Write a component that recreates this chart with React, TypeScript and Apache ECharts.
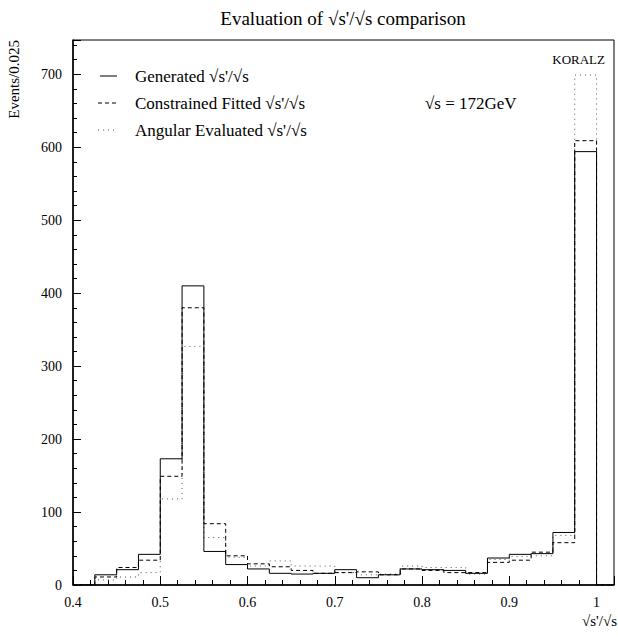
import React, { useEffect, useRef } from "react";
import * as echarts from "echarts";

const binStart = 0.425;
const binWidth = 0.025;
const generated = [14, 21, 42, 173, 410, 46, 28, 22, 16, 15, 16, 21, 10, 14, 22, 21, 20, 16, 37, 42, 43, 72, 594];
const constrainedFitted = [11, 24, 34, 149, 380, 84, 40, 29, 25, 20, 16, 17, 18, 14, 22, 20, 17, 17, 31, 34, 45, 58, 609];
const angularEvaluated = [7, 11, 17, 118, 327, 65, 38, 26, 33, 26, 26, 17, 14, 15, 26, 24, 24, 15, 35, 39, 40, 68, 699];
const legendNames = ["Generated \u221As'/\u221As", "Constrained Fitted \u221As'/\u221As", "Angular Evaluated \u221As'/\u221As"];
const titleText = "Evaluation of \u221As'/\u221As comparison";
const yTitle = "Events/0.025";
const xTitle = "\u221As'/\u221As";
const energyText = "\u221As = 172GeV";
const generatorText = "KORALZ";

const FONT = "'Liberation Serif', 'DejaVu Serif', serif";

function stepData(vals: number[]) {
  const pts: number[][] = [[0.4, 0]];
  vals.forEach((v, i) => {
    pts.push([+(binStart + i * binWidth).toFixed(4), v]);
  });
  pts.push([1.0, 0]);
  pts.push([1.02, 0]);
  return pts;
}

export default function App() {
  const ref = useRef<HTMLDivElement>(null);
  useEffect(() => {
    if (!ref.current) return;
    const chart = echarts.init(ref.current, null, { renderer: "svg" });
    const lineSeries = (name: string, vals: number[], type: any, color: string, z: number) => ({
      name,
      type: "line",
      step: "end",
      symbol: "none",
      data: stepData(vals),
      lineStyle: { color, width: 1, type },
      z,
      silent: true,
    });
    const legendY = [76, 103, 130];
    chart.setOption({
      animation: false,
      backgroundColor: "#fff",
      grid: { left: 73, right: 4, top: 40, bottom: 52, show: true, borderColor: "#000", borderWidth: 1 },
      xAxis: {
        type: "value",
        min: 0.4,
        max: 1.02,
        interval: 0.1,
        axisLine: { lineStyle: { color: "#000", width: 1.5 } },
        axisTick: { inside: true, length: 9, lineStyle: { color: "#000" } },
        minorTick: { show: true, splitNumber: 5, length: 5, lineStyle: { color: "#000" } },
        splitLine: { show: false },
        axisLabel: {
          color: "#000",
          fontFamily: FONT,
          fontSize: 14,
          margin: 10,
          showMaxLabel: false,
          formatter: (v: number) =>
            Math.abs(v * 10 - Math.round(v * 10)) < 1e-6 ? String(+v.toFixed(1)) : "",
        },
      },
      yAxis: {
        type: "value",
        min: 0,
        max: 747,
        interval: 100,
        axisLine: { show: true, lineStyle: { color: "#000", width: 1.5 } },
        axisTick: { show: true, inside: true, length: 8, lineStyle: { color: "#000" } },
        minorTick: { show: true, splitNumber: 5, length: 4, lineStyle: { color: "#000" } },
        splitLine: { show: false },
        axisLabel: {
          color: "#000",
          fontFamily: FONT,
          fontSize: 14,
          margin: 11,
          showMaxLabel: false,
          formatter: (v: number) => (v % 100 === 0 ? String(v) : ""),
        },
      },
      series: [
        lineSeries(legendNames[2], angularEvaluated, [1, 4], "#555", 2),
        lineSeries(legendNames[1], constrainedFitted, [4, 3], "#000", 3),
        lineSeries(legendNames[0], generated, "solid", "#000", 4),
      ],
      graphic: [
        {
          type: "text",
          x: 343,
          y: 18,
          style: { text: titleText, font: `19px ${FONT}`, fill: "#000", textAlign: "center", textVerticalAlign: "middle" },
        },
        {
          type: "text",
          x: 14,
          y: 40,
          rotation: Math.PI / 2,
          style: { text: yTitle, font: `15px ${FONT}`, fill: "#000", textAlign: "right", textVerticalAlign: "middle" },
        },
        {
          type: "text",
          x: 617,
          y: 621,
          style: { text: xTitle, font: `15px ${FONT}`, fill: "#000", textAlign: "right", textVerticalAlign: "middle" },
        },
        {
          type: "text",
          x: 605,
          y: 59,
          style: { text: generatorText, font: `13px ${FONT}`, fill: "#000", textAlign: "right", textVerticalAlign: "middle" },
        },
        {
          type: "text",
          x: 425,
          y: legendY[1],
          style: { text: energyText, font: `17px ${FONT}`, fill: "#000", textAlign: "left", textVerticalAlign: "middle" },
        },
        ...legendNames.map((n, i) => ({
          type: "text",
          x: 135,
          y: legendY[i],
          style: { text: n, font: `17px ${FONT}`, fill: "#000", textAlign: "left", textVerticalAlign: "middle" },
        })),
        {
          type: "line",
          shape: { x1: 100, y1: legendY[0], x2: 117, y2: legendY[0] },
          style: { stroke: "#000", lineWidth: 1 },
        },
        {
          type: "line",
          shape: { x1: 98, y1: legendY[1], x2: 117, y2: legendY[1] },
          style: { stroke: "#000", lineWidth: 1, lineDash: [4, 3] },
        },
        {
          type: "line",
          shape: { x1: 98, y1: legendY[2], x2: 117, y2: legendY[2] },
          style: { stroke: "#555", lineWidth: 1, lineDash: [1, 4] },
        },
      ],
    });
    return () => chart.dispose();
  }, []);
  return <div ref={ref} style={{ position: "fixed", left: 0, top: 0, width: 618, height: 637 }} />;
}
